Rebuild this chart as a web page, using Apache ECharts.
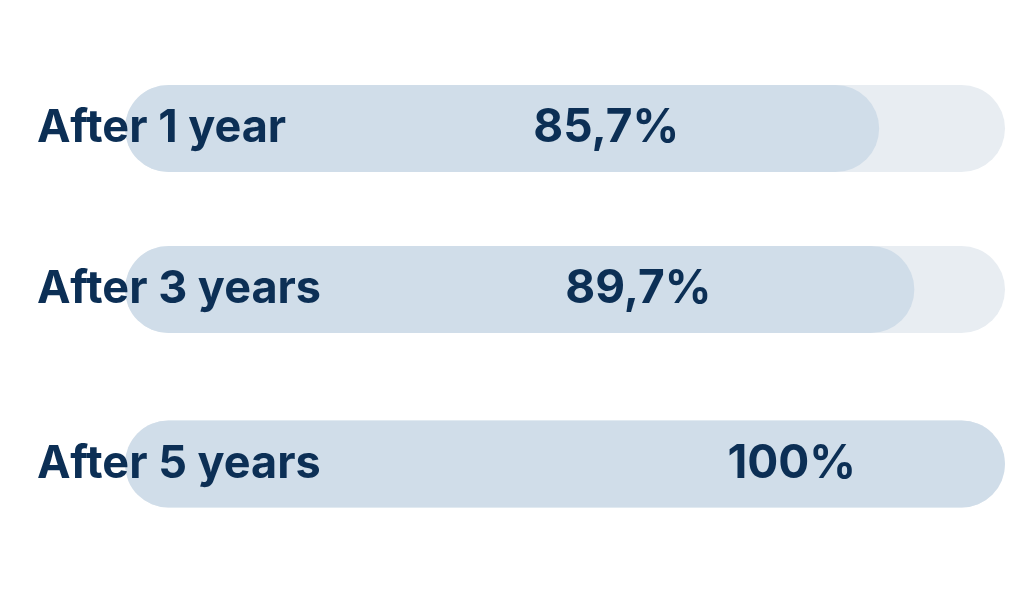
<!DOCTYPE html>
<html>
<head>
<meta charset="utf-8">
<script src="https://cdn.jsdelivr.net/npm/echarts@6/dist/echarts.min.js"></script>
<style>html,body{margin:0;padding:0;background:#fff}#c{width:1024px;height:600px}</style>
</head>
<body>
<div id="c"></div>
<script>
// data
const categories = ['After 1 year', 'After 3 years', 'After 5 years'];
const values = [85.7, 89.7, 100];
const maxValue = 100;

// layout / style constants
const rowCenters = [128.5, 289.5, 464];
const barH = 87;
const labelOffsets = [-195, -198, -144];
const textColor = '#0c2f55';
const fgColor = '#d0dde9';
const bgColor = '#e8edf2';
const fontFamily = 'Inter, "DejaVu Sans", sans-serif';

const grids = [], xAxes = [], yAxes = [], series = [];
categories.forEach((cat, i) => {
  grids.push({ left: 125, right: 19, top: rowCenters[i] - barH / 2, height: barH });
  xAxes.push({ type: 'value', gridIndex: i, min: 0, max: maxValue, show: false });
  yAxes.push({
    type: 'category', gridIndex: i, data: [cat], z: 10,
    axisLine: { show: false }, axisTick: { show: false }, splitLine: { show: false },
    axisLabel: { align: 'left', margin: 88, color: textColor, fontSize: 45, fontWeight: 'bold', fontFamily }
  });
  series.push({
    type: 'bar', xAxisIndex: i, yAxisIndex: i, data: [maxValue],
    barWidth: barH, silent: true,
    itemStyle: { color: bgColor, borderRadius: barH / 2 }
  });
  series.push({
    type: 'bar', xAxisIndex: i, yAxisIndex: i, data: [values[i]],
    barWidth: barH, barGap: '-100%', silent: true,
    itemStyle: { color: fgColor, borderRadius: barH / 2 },
    label: {
      show: true, position: 'insideRight', offset: [labelOffsets[i], 0],
      color: textColor, fontSize: 46, fontWeight: 'bold', fontFamily,
      formatter: p => String(p.value).replace('.', ',') + '%'
    }
  });
});

const chart = echarts.init(document.getElementById('c'));
chart.setOption({
  backgroundColor: '#ffffff',
  animation: false,
  grid: grids, xAxis: xAxes, yAxis: yAxes, series
});
</script>
</body>
</html>
